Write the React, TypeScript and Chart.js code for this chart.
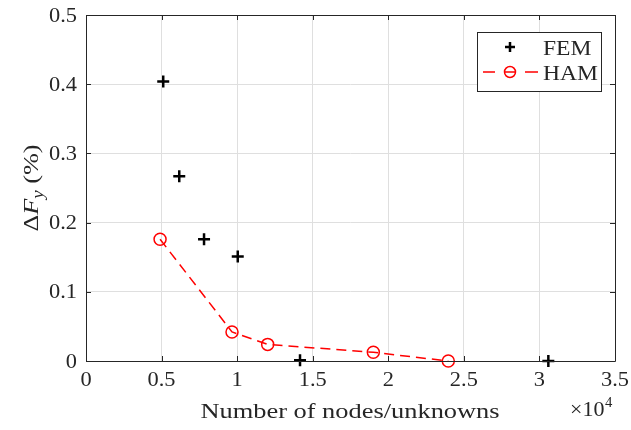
import React, { useEffect, useRef } from "react";
import { Chart, registerables } from "chart.js";

Chart.register(...registerables);

// x values in units of 10^4
const femX = [0.511, 0.617, 0.781, 1.004, 1.416, 3.059];
const femY = [0.404, 0.267, 0.176, 0.151, 0.001, 0.0];
const hamX = [0.49, 0.966, 1.202, 1.901, 2.397];
const hamY = [0.176, 0.042, 0.024, 0.0126, 0.0];
const xTicks = [0, 0.5, 1, 1.5, 2, 2.5, 3, 3.5];
const yTicks = [0, 0.1, 0.2, 0.3, 0.4, 0.5];
const seriesNames = ["FEM", "HAM"];
const xTitle = "Number of nodes/unknowns";

const FONT = "'Liberation Serif', 'DejaVu Serif', serif";
const AXIS = "#262626";
const RED = "#ff0000";

// draw text horizontally stretched by sx (Computer Modern is wider than Times)
function fillScaled(ctx: any, text: string, x: number, y: number, sx: number, align: string) {
  const w = ctx.measureText(text).width * sx;
  let left = x;
  if (align === "center") left = x - w / 2;
  else if (align === "right") left = x - w;
  ctx.save();
  ctx.textAlign = "left";
  ctx.translate(left, y);
  ctx.scale(sx, 1);
  ctx.fillText(text, 0, 0);
  ctx.restore();
  return w;
}

const decorPlugin = {
  id: "decor",
  afterDraw(chart: any) {
    const ctx = chart.ctx;
    const a = chart.chartArea;
    const xs = chart.scales.x;
    const ys = chart.scales.y;
    ctx.save();
    // box
    ctx.strokeStyle = AXIS;
    ctx.lineWidth = 1;
    ctx.beginPath();
    ctx.rect(Math.round(a.left) + 0.5, Math.round(a.top) + 0.5, Math.round(a.right - a.left), Math.round(a.bottom - a.top));
    ctx.stroke();
    // inward ticks
    const tl = 5;
    ctx.beginPath();
    xTicks.forEach((t) => {
      const px = Math.round(xs.getPixelForValue(t)) + 0.5;
      ctx.moveTo(px, a.bottom);
      ctx.lineTo(px, a.bottom - tl);
      ctx.moveTo(px, a.top);
      ctx.lineTo(px, a.top + tl);
    });
    yTicks.forEach((t) => {
      const py = Math.round(ys.getPixelForValue(t)) + 0.5;
      ctx.moveTo(a.left, py);
      ctx.lineTo(a.left + tl, py);
      ctx.moveTo(a.right, py);
      ctx.lineTo(a.right - tl, py);
    });
    ctx.stroke();

    ctx.fillStyle = AXIS;
    // tick labels
    ctx.font = `20px ${FONT}`;
    ctx.textBaseline = "alphabetic";
    xTicks.forEach((t) => {
      fillScaled(ctx, String(t), xs.getPixelForValue(t), a.bottom + 25, 1.12, "center");
    });
    yTicks.forEach((t) => {
      fillScaled(ctx, String(t), a.left - 9, ys.getPixelForValue(t) + 6.5, 1.12, "right");
    });

    // x title
    ctx.font = `22px ${FONT}`;
    fillScaled(ctx, xTitle, 350, 418, 1.2, "center");
    // x10^4
    ctx.font = `20px ${FONT}`;
    const w = fillScaled(ctx, "×10", 570, 416, 1.1, "left");
    ctx.font = `14px ${FONT}`;
    fillScaled(ctx, "4", 570 + w + 0.5, 407, 1.05, "left");

    // y title rotated: ΔF_y (%)
    ctx.save();
    ctx.translate(38, 188);
    ctx.rotate(-Math.PI / 2);
    const sx = 1.19;
    const parts: [string, string, number][] = [
      ["Δ", `22px ${FONT}`, 0],
      ["F", `italic 22px ${FONT}`, 0],
      ["y", `italic 16px ${FONT}`, 5],
      [" (%)", `22px ${FONT}`, 0],
    ];
    let total = 0;
    parts.forEach(([s, f]) => {
      ctx.font = f;
      total += ctx.measureText(s).width * sx;
    });
    let cx = -total / 2;
    parts.forEach(([s, f, dy]) => {
      ctx.font = f;
      cx += fillScaled(ctx, s, cx, dy, sx, "left");
    });
    ctx.restore();

    // legend
    const lx = 477, ly = 32, lw = 124, lh = 59;
    ctx.fillStyle = "#ffffff";
    ctx.fillRect(lx, ly, lw, lh);
    ctx.strokeStyle = AXIS;
    ctx.lineWidth = 1;
    ctx.strokeRect(lx + 0.5, ly + 0.5, lw, lh);
    const r1 = 47, r2 = 72, mx = 510;
    // FEM marker
    ctx.strokeStyle = "#000";
    ctx.lineWidth = 2.5;
    ctx.beginPath();
    ctx.moveTo(mx - 5, r1);
    ctx.lineTo(mx + 5, r1);
    ctx.moveTo(mx, r1 - 5);
    ctx.lineTo(mx, r1 + 5);
    ctx.stroke();
    // HAM line + marker
    ctx.strokeStyle = RED;
    ctx.lineWidth = 1.5;
    ctx.beginPath();
    ctx.moveTo(483, r2);
    ctx.lineTo(495, r2);
    ctx.moveTo(525, r2);
    ctx.lineTo(538, r2);
    ctx.moveTo(mx - 5, r2);
    ctx.lineTo(mx + 5, r2);
    ctx.stroke();
    ctx.beginPath();
    ctx.arc(mx, r2, 5.5, 0, Math.PI * 2);
    ctx.stroke();
    ctx.fillStyle = AXIS;
    ctx.font = `22px ${FONT}`;
    ctx.textBaseline = "alphabetic";
    fillScaled(ctx, seriesNames[0], 543, r1 + 8, 1.07, "left");
    fillScaled(ctx, seriesNames[1], 543, r2 + 8, 1.07, "left");
    ctx.restore();
  },
};

export default function App() {
  const ref = useRef<HTMLCanvasElement>(null);
  useEffect(() => {
    const chart = new Chart(ref.current!, {
      type: "scatter",
      data: {
        datasets: [
          {
            label: seriesNames[0],
            data: femX.map((x, i) => ({ x, y: femY[i] })),
            pointStyle: "cross",
            pointRadius: 6,
            pointBorderWidth: 2.5,
            borderColor: "#000",
            backgroundColor: "#000",
            showLine: false,
          },
          {
            label: seriesNames[1],
            data: hamX.map((x, i) => ({ x, y: hamY[i] })),
            pointStyle: "circle",
            pointRadius: 6,
            pointBorderWidth: 1.5,
            borderColor: RED,
            backgroundColor: "rgba(0,0,0,0)",
            pointBackgroundColor: "rgba(0,0,0,0)",
            borderWidth: 1.5,
            borderDash: [10, 6],
            showLine: true,
          },
        ],
      },
      options: {
        animation: false,
        responsive: false,
        maintainAspectRatio: false,
        clip: false as any,
        layout: { padding: { left: 0, top: 15, right: 16, bottom: 0 } },
        plugins: { legend: { display: false }, tooltip: { enabled: false } },
        scales: {
          x: {
            type: "linear",
            min: 0,
            max: 3.5,
            afterBuildTicks: (s: any) => {
              s.ticks = xTicks.map((v) => ({ value: v }));
            },
            afterFit: (s: any) => {
              s.height = 69;
              s.paddingLeft = 0;
              s.paddingRight = 0;
            },
            grid: { color: "#dfdfdf", drawTicks: false, lineWidth: 1 },
            border: { display: false },
            ticks: { display: false },
          },
          y: {
            type: "linear",
            min: 0,
            max: 0.5,
            afterBuildTicks: (s: any) => {
              s.ticks = yTicks.map((v) => ({ value: v }));
            },
            afterFit: (s: any) => {
              s.width = 86;
              s.paddingTop = 0;
              s.paddingBottom = 0;
            },
            grid: { color: "#dfdfdf", drawTicks: false, lineWidth: 1 },
            border: { display: false },
            ticks: { display: false },
          },
        },
      },
      plugins: [decorPlugin],
    });
    return () => chart.destroy();
  }, []);
  return (
    <div style={{ position: "fixed", left: 0, top: 0, width: 631, height: 430, background: "#fff" }}>
      <canvas ref={ref} width={631} height={430} style={{ display: "block" }} />
    </div>
  );
}
